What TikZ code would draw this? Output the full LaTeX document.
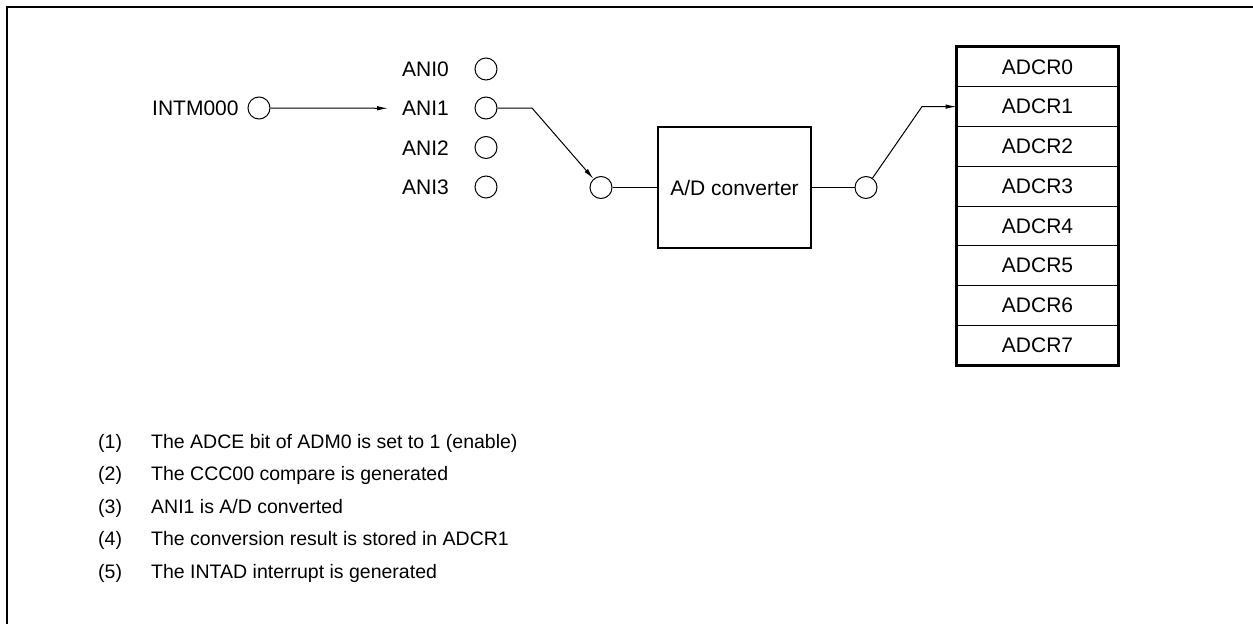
\documentclass[tikz,border=0pt]{standalone}
\usepackage{fontspec}
\setmainfont{Liberation Sans}
\usetikzlibrary{arrows.meta}
\tikzset{
  lbl/.style={inner sep=0pt, font=\fontsize{21}{25}\selectfont, anchor=base west},
  note/.style={inner sep=0pt, font=\fontsize{19.5}{23}\selectfont, anchor=base west},
  pinc/.style={draw, circle, minimum size=22pt, inner sep=0pt, line width=1pt},
  conn/.style={line width=1pt},
  arr/.style={line width=1pt, -{Latex[length=11pt,width=4.5pt]}},
  heavy/.style={line width=2.3pt},
  reg/.style={draw, line width=1pt, minimum width=161pt, minimum height=39.75pt, inner sep=0pt, font=\fontsize{21}{25}\selectfont},
}
\begin{document}
\begin{tikzpicture}[x=1pt,y=-1pt]
\useasboundingbox (0,0) rectangle (1253,624);
% frame
\draw[heavy] (7,624) -- (7,7) -- (1253,7);

% INTM000
\node[lbl] (intm) at (152,115.5) {INTM000};
\node[pinc] (intmc) at (259,108) {};

% ANI inputs
\node[lbl] (ani0) at (402,76.5) {ANI0};
\node[lbl] (ani1) at (402,115.5) {ANI1};
\node[lbl] (ani2) at (402,155) {ANI2};
\node[lbl] (ani3) at (402,194.5) {ANI3};
\node[pinc] (ani0c) at (486,69) {};
\node[pinc] (ani1c) at (486,108) {};
\node[pinc] (ani2c) at (486,147.5) {};
\node[pinc] (ani3c) at (486,187) {};

% converter
\node[pinc] (inc) at (601,187.5) {};
\node[draw, heavy, minimum width=153pt, minimum height=121pt, inner sep=0pt, font=\fontsize{21}{25}\selectfont] (adc) at (734.5,187.5) {A/D converter};
\node[pinc] (outc) at (866,187.5) {};

% registers
\foreach \i in {0,...,7}{
  \node[reg] (r\i) at (1037.5,{47+39.75*(\i+0.5)}) {ADCR\i};
}
\draw[heavy] (r0.north west) rectangle (r7.south east);

% connectors
\draw[arr] (intmc) -- ([xshift=-14pt]ani1.west);
\coordinate (k1) at (532,108);
\draw[arr] (ani1c) -- (k1) -- (inc);
\draw[conn] (inc) -- (adc);
\draw[conn] (adc) -- (outc);
\coordinate (k2) at (922,106.6);
\draw[arr] (outc) -- (k2) -- (r1.west);

% notes
\node[note] (n1) at (98,448) {(1)};
\node[note] (t1) at (151,448) {The ADCE bit of ADM0 is set to 1 (enable)};
\node[note] (n2) at (98,480.5) {(2)};
\node[note] (t2) at (151,480.5) {The CCC00 compare is generated};
\node[note] (n3) at (98,513) {(3)};
\node[note] (t3) at (151,513) {ANI1 is A/D converted};
\node[note] (n4) at (98,545.5) {(4)};
\node[note] (t4) at (151,545.5) {The conversion result is stored in ADCR1};
\node[note] (n5) at (98,578) {(5)};
\node[note] (t5) at (151,578) {The INTAD interrupt is generated};
\end{tikzpicture}
\end{document}
